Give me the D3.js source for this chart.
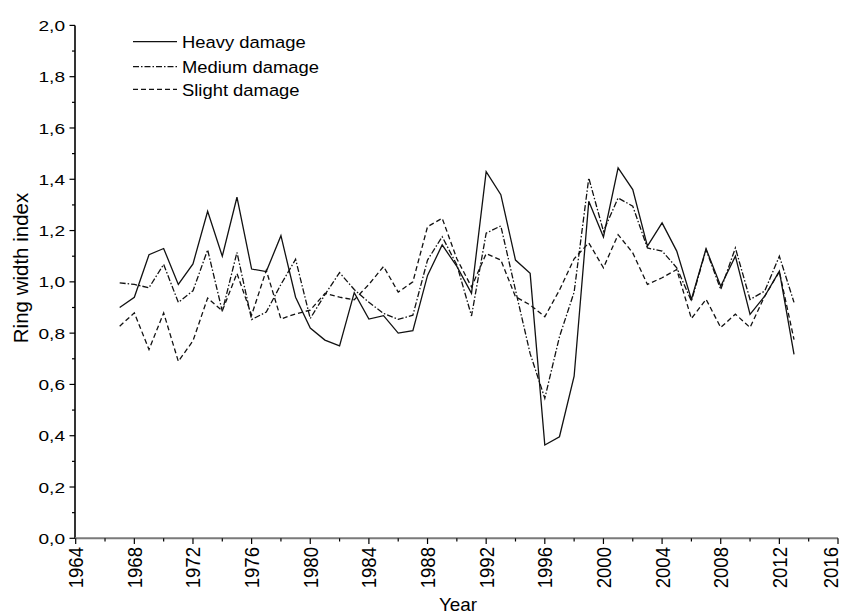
<!DOCTYPE html>
<html>
<head>
<meta charset="utf-8">
<script src="https://cdn.jsdelivr.net/npm/d3@7"></script>
<style>
  html, body { margin: 0; padding: 0; background: #fff; }
  svg { display: block; font-family: "Liberation Sans", Arial, sans-serif; }
</style>
</head>
<body>
<svg id="chart" width="843" height="615"></svg>
<script>
const years = d3.range(1967, 2014);
const heavy = [0.90,0.94,1.106,1.13,0.99,1.07,1.275,1.10,1.33,1.05,1.04,1.18,0.94,0.82,0.773,0.75,0.958,0.855,0.868,0.80,0.81,1.025,1.144,1.06,0.955,1.43,1.34,1.085,1.033,0.364,0.396,0.632,1.314,1.175,1.444,1.36,1.139,1.23,1.12,0.931,1.129,0.983,1.10,0.873,0.944,1.042,0.717];
const medium = [0.996,0.99,0.977,1.068,0.92,0.965,1.125,0.885,1.115,0.853,0.882,0.99,1.088,0.857,0.95,1.036,0.97,0.92,0.877,0.854,0.87,1.085,1.176,1.066,0.867,1.19,1.218,0.968,0.72,0.546,0.786,0.96,1.405,1.197,1.327,1.295,1.132,1.12,1.055,0.925,1.126,0.97,1.132,0.931,0.964,1.10,0.92];
const slight = [0.827,0.879,0.736,0.879,0.69,0.77,0.937,0.887,1.033,0.87,1.045,0.855,0.875,0.89,0.955,0.94,0.93,0.99,1.06,0.96,1.0,1.215,1.248,1.09,0.98,1.11,1.085,0.942,0.91,0.864,0.968,1.09,1.152,1.055,1.184,1.113,0.99,1.016,1.048,0.857,0.932,0.822,0.874,0.822,0.944,1.04,0.775];
const seriesNames = ["Heavy damage", "Medium damage", "Slight damage"];
const xTicks = d3.range(1964, 2017, 4);
const yTicks = d3.range(0, 2.01, 0.2);

const svg = d3.select("#chart");
const W = 843;
const x = d3.scaleLinear().domain([1964, 2016]).range([75.7, 838]);
const y = d3.scaleLinear().domain([0, 2]).range([538.3, 25.4]);

const dashes = [null, "6,2,1.5,2", "5,3"];
const series = [heavy, medium, slight];

// Y axis
const yAxis = svg.append("g");
yAxis.append("line").attr("x1", 75).attr("x2", 75).attr("y1", y(2)).attr("y2", y(0))
  .attr("stroke", "#000").attr("stroke-width", 1.6);
d3.range(0, 2.001, 0.1).forEach((v, i) => {
  const major = i % 2 === 0;
  yAxis.append("line").attr("x1", 75).attr("x2", major ? 69.5 : 72)
    .attr("y1", y(v)).attr("y2", y(v)).attr("stroke", "#000").attr("stroke-width", 1.2);
});
yTicks.forEach(v => {
  yAxis.append("text")
    .attr("transform", `translate(65,${y(v)}) scale(1.24,1)`)
    .attr("text-anchor", "end").attr("dy", "0.36em")
    .attr("font-size", 15.4).attr("fill", "#000")
    .text(v.toFixed(1).replace(".", ","));
});

// X axis
const xAxis = svg.append("g");
xAxis.append("line").attr("x1", 75).attr("x2", 838).attr("y1", 538.3).attr("y2", 538.3)
  .attr("stroke", "#7a7a7a").attr("stroke-width", 2);
d3.range(1964, 2017, 2).forEach((yr, i) => {
  const major = i % 2 === 0;
  xAxis.append("line").attr("x1", x(yr)).attr("x2", x(yr))
    .attr("y1", 538.3).attr("y2", major ? 544 : 541.5)
    .attr("stroke", "#000").attr("stroke-width", 1.2);
});
xTicks.forEach(yr => {
  const px = Math.min(x(yr), W - 12);
  xAxis.append("text")
    .attr("transform", `translate(${px},547) scale(1.12,1) rotate(-90)`)
    .attr("text-anchor", "end").attr("dy", "0.36em")
    .attr("font-size", 18.6).attr("fill", "#000")
    .text(yr);
});

// Axis titles
svg.append("text")
  .attr("transform", `translate(458,611) scale(1.05,1)`)
  .attr("text-anchor", "middle").attr("font-size", 18).text("Year");
svg.append("text")
  .attr("transform", `translate(28,268) rotate(-90)`)
  .attr("text-anchor", "middle").attr("font-size", 20.5).text("Ring width index");

// Lines
const line = d3.line().x((d, i) => x(years[i])).y(d => y(d));
series.forEach((s, k) => {
  svg.append("path").datum(s)
    .attr("d", line)
    .attr("fill", "none")
    .attr("stroke", "#111")
    .attr("stroke-width", 1.3)
    .attr("stroke-linejoin", "miter")
    .attr("stroke-dasharray", dashes[k]);
});

// Legend
const legY = [41.7, 66.7, 89.3];
seriesNames.forEach((name, k) => {
  svg.append("line").attr("x1", 133).attr("x2", 177).attr("y1", legY[k]).attr("y2", legY[k])
    .attr("stroke", "#111").attr("stroke-width", 1.3).attr("stroke-dasharray", dashes[k]);
  svg.append("text")
    .attr("transform", `translate(182,${legY[k] + 6.3}) scale(1.07,1)`)
    .attr("font-size", 17.2).attr("fill", "#000").text(name);
});
</script>
</body>
</html>
